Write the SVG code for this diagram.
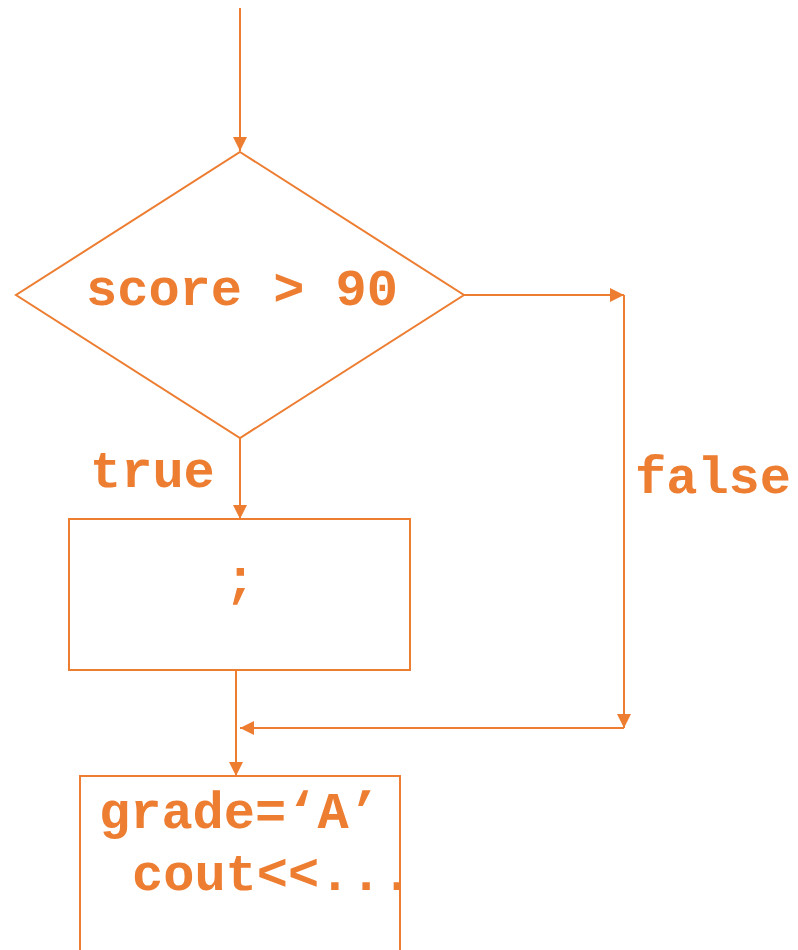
<svg xmlns="http://www.w3.org/2000/svg" width="798" height="950" viewBox="0 0 798 950">
  <style>
    .shape { fill: none; stroke: #ED7D31; stroke-width: 2; }
    .wire { fill: none; stroke: #ED7D31; stroke-width: 2; marker-end: url(#head); }
    .code { font-family: "Liberation Mono", "Courier New", monospace; font-weight: bold; font-size: 52px; fill: #ED7D31; }
  </style>
  <defs>
    <marker id="head" viewBox="0 0 14 14" refX="14" refY="7" markerWidth="14" markerHeight="14" markerUnits="userSpaceOnUse" orient="auto">
      <path d="M0,0 L14,7 L0,14 Z" fill="#ED7D31"/>
    </marker>
  </defs>
  <rect width="798" height="950" fill="#FFFFFF"/>

  <g id="connectors">
    <line class="wire" x1="240" y1="8" x2="240" y2="151"/>
    <line class="wire" x1="464" y1="295" x2="624" y2="295"/>
    <line class="wire" x1="624" y1="295" x2="624" y2="728"/>
    <line class="wire" x1="624" y1="728" x2="240" y2="728"/>
    <line class="wire" x1="240" y1="438" x2="240" y2="519"/>
    <line class="wire" x1="236" y1="670" x2="236" y2="776"/>
  </g>

  <g id="decision">
    <polygon class="shape" points="240,152 464,295 240,438 16,295"/>
    <text class="code" x="242" y="305" text-anchor="middle">score &gt; 90</text>
  </g>

  <g id="label-true">
    <text class="code" x="90" y="487">true</text>
  </g>

  <g id="label-false">
    <text class="code" x="635" y="493">false</text>
  </g>

  <g id="empty-statement">
    <rect class="shape" x="69" y="519" width="341" height="151"/>
    <text class="code" x="240" y="595" text-anchor="middle">;</text>
  </g>

  <g id="assignment">
    <polyline class="shape" points="80,950 80,776 400,776 400,950"/>
    <text class="code" x="99" y="828">grade=‘A’</text>
    <text class="code" x="132" y="890">cout&lt;&lt;...</text>
  </g>
</svg>
